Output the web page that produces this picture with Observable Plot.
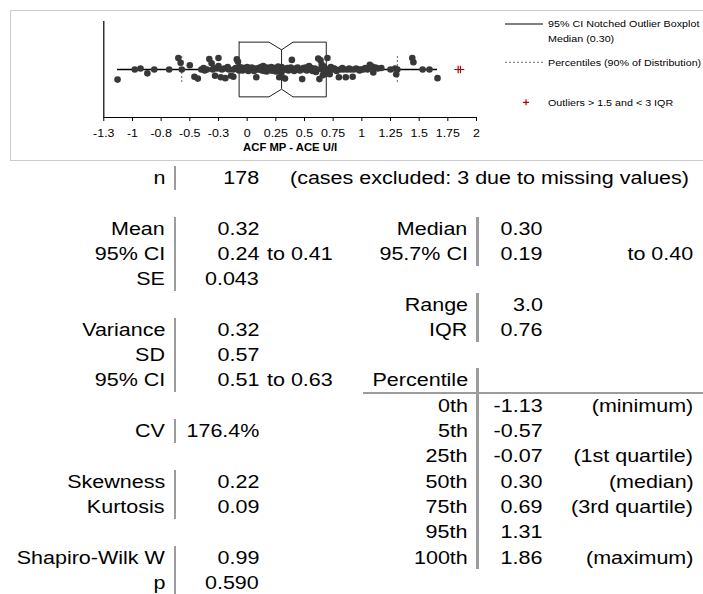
<!DOCTYPE html>
<html><head><meta charset="utf-8">
<script src="https://cdn.jsdelivr.net/npm/d3@7"></script>
<script src="https://cdn.jsdelivr.net/npm/@observablehq/plot@0.6"></script>
<style>
html,body{margin:0;padding:0;background:#fff;}
body{width:703px;height:594px;position:relative;overflow:hidden;font-family:"Liberation Sans",Arial,sans-serif;}
#frame{position:absolute;left:10px;top:10px;width:700px;height:151px;border:1.5px solid #cccccc;box-sizing:border-box;}
#chart{position:absolute;left:0;top:0;}
#table{position:absolute;left:0;top:0;width:703px;height:594px;}
.t{position:absolute;white-space:nowrap;font-size:18.7px;line-height:22px;height:22px;color:#000;}
.bar{position:absolute;background:#9c9c9c;}
</style></head><body>
<div id="frame"></div><div id="chart"></div><div id="table"></div>
<script>
// ---------- data ----------
const tickValues = [-1.25,-1,-0.75,-0.5,-0.25,0,0.25,0.5,0.75,1,1.25,1.5,1.75,2];
const tickLabels = ["-1.3","-1","-0.8","-0.5","-0.3","0","0.25","0.5","0.75","1","1.25","1.5","1.75","2"];
const axisTitle = ["ACF MP - ACE U/I"];
const quartiles = [-0.07, 0.30, 0.69];      // Q1, median, Q3
const medianCI = [0.19, 0.40];
const whiskers = [-1.13, 1.66];
const percentiles90 = [-0.57, 1.31];
const outliers = [1.84, 1.86];
const pointValues = [
 -1.13,-0.98,-0.93,-0.87,-0.81,-0.68,-0.60,-0.58,-0.57,-0.50,-0.46,-0.43,-0.40,-0.38,-0.37,-0.35,-0.33,-0.31,-0.30,-0.29,
 -0.28,-0.26,-0.25,-0.25,-0.23,-0.22,-0.20,-0.19,-0.17,-0.16,-0.14,-0.12,-0.12,-0.10,-0.09,-0.08,-0.08,-0.07,-0.07,-0.06,
 -0.05,-0.04,-0.03,-0.02,-0.01,0.00,0.01,0.02,0.03,0.04,0.05,0.06,0.07,0.08,0.09,0.10,0.11,0.12,0.13,0.14,
 0.15,0.16,0.17,0.18,0.19,0.20,0.21,0.22,0.23,0.24,0.25,0.26,0.27,0.28,0.28,0.29,0.29,0.30,0.30,0.30,
 0.30,0.30,0.27,0.25,0.23,0.21,0.19,0.17,0.15,0.31,0.32,0.33,0.34,0.35,0.36,0.37,0.38,0.39,0.40,0.41,
 0.42,0.43,0.44,0.45,0.46,0.47,0.48,0.49,0.50,0.51,0.52,0.53,0.54,0.55,0.56,0.57,0.58,0.59,0.60,0.61,
 0.62,0.63,0.64,0.65,0.65,0.66,0.66,0.67,0.68,0.68,0.69,0.69,0.70,0.71,0.72,0.73,0.74,0.75,0.76,0.77,
 0.78,0.80,0.81,0.83,0.84,0.86,0.87,0.89,0.90,0.92,0.93,0.95,0.97,0.98,0.99,1.01,1.02,1.03,1.05,1.07,
 1.08,1.09,1.10,1.11,1.12,1.14,1.17,1.25,1.29,1.30,1.31,1.44,1.45,1.53,1.59,1.66
];
const pointJitter = [
 -0.21,0,0.02,-0.08,0,0,0.24,0.14,0,0.09,-0.15,-0.19,0,0.03,-0.02,0,0.22,0.13,0,0.03,
 -0.13,0.02,0.24,0.07,-0.16,0,0.02,-0.18,0.05,0,-0.13,0,-0.15,0.03,0.21,0.16,0,0.05,-0.02,0,
 0.04,-0.02,0.03,0,0.02,0.05,-0.03,0,0.02,0.04,0,-0.03,0.02,-0.16,0,0.03,0,0.05,-0.02,0.07,
 0,0.02,-0.04,0,0.03,0,0.05,-0.02,0,0.03,0,-0.03,0.02,-0.16,0,0.04,-0.02,0,0.05,-0.05,
 0.02,-0.14,0.06,-0.04,0.03,-0.02,0,0.04,-0.03,0.02,0,-0.19,0,0.03,-0.02,0,0.04,0.20,0,-0.03,
 0.02,0,0.04,0,-0.02,0,-0.20,0.03,0,0.04,-0.02,0,0.07,0,0.03,-0.03,0,0.02,-0.05,0,
 0.23,-0.20,0.19,0.10,0,0.03,-0.12,0.06,-0.05,0.02,0,-0.09,0.24,0,-0.10,0.05,0,0.02,0.02,0,
 -0.03,-0.16,0,0.03,0,-0.16,0,0.02,0,-0.15,0,0.02,0,-0.02,0,0,0.01,0.03,0,0.10,
 0.05,0.06,-0.06,0.03,0.04,0.02,0.03,0,0.02,-0.10,0,0.24,0.15,0,0,-0.18
];
const legendLabels = ["95% CI Notched Outlier Boxplot","Median (0.30)","Percentiles (90% of Distribution)","Outliers > 1.5 and < 3 IQR"];

// table data
const leftLabels = ["n","Mean","95% CI","SE","Variance","SD","95% CI","CV","Skewness","Kurtosis","Shapiro-Wilk W","p"];
const leftRows   = [0,2,3,4,6,7,8,10,12,13,15,16];
const leftValues = ["178","0.32","0.24","0.043","0.32","0.57","0.51","176.4%","0.22","0.09","0.99","0.590"];
const leftExtras = ["(cases excluded: 3 due to missing values)","","to 0.41","","","","to 0.63","","","","",""];
const leftGroups = [[0,0],[2,4],[6,8],[10,10],[12,13],[15,16]];
const rightLabels = ["Median","95.7% CI","Range","IQR","Percentile","0th","5th","25th","50th","75th","95th","100th"];
const rightRows   = [2,3,5,6,8,9,10,11,12,13,14,15];
const rightValues = ["0.30","0.19","3.0","0.76","","-1.13","-0.57","-0.07","0.30","0.69","1.31","1.86"];
const rightNotes  = ["","to 0.40","","","","(minimum)","","(1st quartile)","(median)","(3rd quartile)","","(maximum)"];
const rightGroups = [[2,3],[5,6],[8,15]];

// ---------- chart ----------
const points = pointValues.map((v,i)=>({v, j: pointJitter[i]}));
const [q1, med, q3] = quartiles;
const [ciLow, ciHigh] = medianCI;
const H = 0.57, N = 0.16, P = 0.27;
const boxPath = [
  {x:q1,y:H},{x:ciLow,y:H},{x:med,y:H-N},{x:ciHigh,y:H},{x:q3,y:H},
  {x:q3,y:-H},{x:ciHigh,y:-H},{x:med,y:-H+N},{x:ciLow,y:-H},{x:q1,y:-H},{x:q1,y:H}
];
const STRETCH = 1.13;

const svg = Plot.plot({
  width: 703, height: 160,
  marginLeft: 103.3, marginRight: 227, marginTop: 21, marginBottom: 43,
  style: {fontFamily: "'Liberation Sans', Arial, sans-serif", fontSize: "11px", background: "transparent", overflow: "visible", color: "#000"},
  x: {domain: [tickValues[0], tickValues[tickValues.length-1]], ticks: tickValues,
      tickFormat: d => tickLabels[tickValues.findIndex(t => Math.abs(t - d) < 1e-9)],
      tickSize: 4, tickPadding: 8, label: null},
  y: {domain: [-1, 1], axis: null},
  marks: [
    Plot.ruleX([tickValues[0]], {stroke: "#000", strokeWidth: 1.2}),
    Plot.ruleY([-1], {stroke: "#000", strokeWidth: 1.2}),
    Plot.line(boxPath, {x: "x", y: "y", stroke: "#222", strokeWidth: 1}),
    Plot.ruleX([med], {y1: H - N, y2: -H + N, stroke: "#222", strokeWidth: 1}),
    Plot.ruleY([0], {x1: whiskers[0], x2: whiskers[1], stroke: "#000", strokeWidth: 1.4}),
    Plot.ruleX(percentiles90, {y1: -P, y2: P, stroke: "#666", strokeWidth: 1, strokeDasharray: "2,2"}),
    Plot.dot(points, {x: "v", y: "j", r: 3.3, fill: "#383838"}),
    Plot.dot(outliers, {x: d => d, y: () => 0, symbol: "plus", r: 2.6, stroke: "#b00000", strokeWidth: 1.2}),
    Plot.text(axisTitle, {text: d => d, frameAnchor: "bottom", dy: 33, fontWeight: "bold", fontSize: 10})
  ]
});
document.getElementById("chart").appendChild(svg);

// stretch texts horizontally to match reference proportions
svg.querySelectorAll("text").forEach(t => {
  const tr = t.getAttribute("transform") || "";
  t.setAttribute("transform", tr + ` scale(${STRETCH},1)`);
});

// legend
const lg = d3.select(svg).append("g").attr("text-anchor", "start");
lg.append("line").attr("x1",505).attr("x2",543).attr("y1",24).attr("y2",24).attr("stroke","#000").attr("stroke-width",1.2);
lg.append("line").attr("x1",505).attr("x2",543).attr("y1",62.3).attr("y2",62.3).attr("stroke","#666").attr("stroke-dasharray","2,2");
lg.append("path").attr("d","M523,102.3H529M526,99.3V105.3").attr("stroke","#b00000").attr("stroke-width",1.2);
const legY = [24, 38.3, 62.3, 102.3];
legendLabels.forEach((s,i) => {
  lg.append("g").attr("transform", `translate(548,${legY[i]}) scale(${STRETCH},1)`)
    .append("text").attr("dy","0.35em").attr("font-size",9.5).attr("text-anchor","start")
    .attr("font-family","'Liberation Sans', Arial, sans-serif").attr("fill","#000").text(s);
});

// ---------- table ----------
const tbl = document.getElementById("table");
const ROW0 = 178, STEP = 25.3, TS = 1.15;
const rowY = r => ROW0 + r * STEP;
function place(text, x, y, align) {
  if (!text) return;
  const s = document.createElement("span");
  s.className = "t";
  s.textContent = text;
  s.style.top = (y - 11) + "px";
  if (align === "right") { s.style.right = (703 - x) + "px"; s.style.transformOrigin = "right center"; }
  else { s.style.left = x + "px"; s.style.transformOrigin = "left center"; }
  s.style.transform = `scaleX(${TS})`;
  tbl.appendChild(s);
}
function bar(x, y1, y2) {
  const b = document.createElement("div");
  b.className = "bar";
  b.style.left = (x - 1.35) + "px"; b.style.width = "2.7px";
  b.style.top = y1 + "px"; b.style.height = (y2 - y1) + "px";
  tbl.appendChild(b);
}
leftLabels.forEach((l,i) => {
  const y = rowY(leftRows[i]);
  place(l, 165, y, "right");
  place(leftValues[i], 259, y, "right");
  if (i === 0) place(leftExtras[i], 290, y, "left");
  else place(leftExtras[i], 266.7, y, "left");
});
rightLabels.forEach((l,i) => {
  const y = rowY(rightRows[i]);
  place(l, 467.7, y, "right");
  place(rightValues[i], 542.7, y, "right");
  place(rightNotes[i], 693.3, y, "right");
});
leftGroups.forEach(([a,b]) => bar(175, rowY(a) - 12, rowY(b) + 12));
rightGroups.forEach(([a,b]) => bar(477.3, rowY(a) - 12, rowY(b) + 12));
const hl = document.createElement("div");
hl.className = "bar";
hl.style.left = "363px"; hl.style.width = "340px";
hl.style.top = (rowY(8.5) - 1.3) + "px"; hl.style.height = "2.7px";
tbl.appendChild(hl);
</script></body></html>
